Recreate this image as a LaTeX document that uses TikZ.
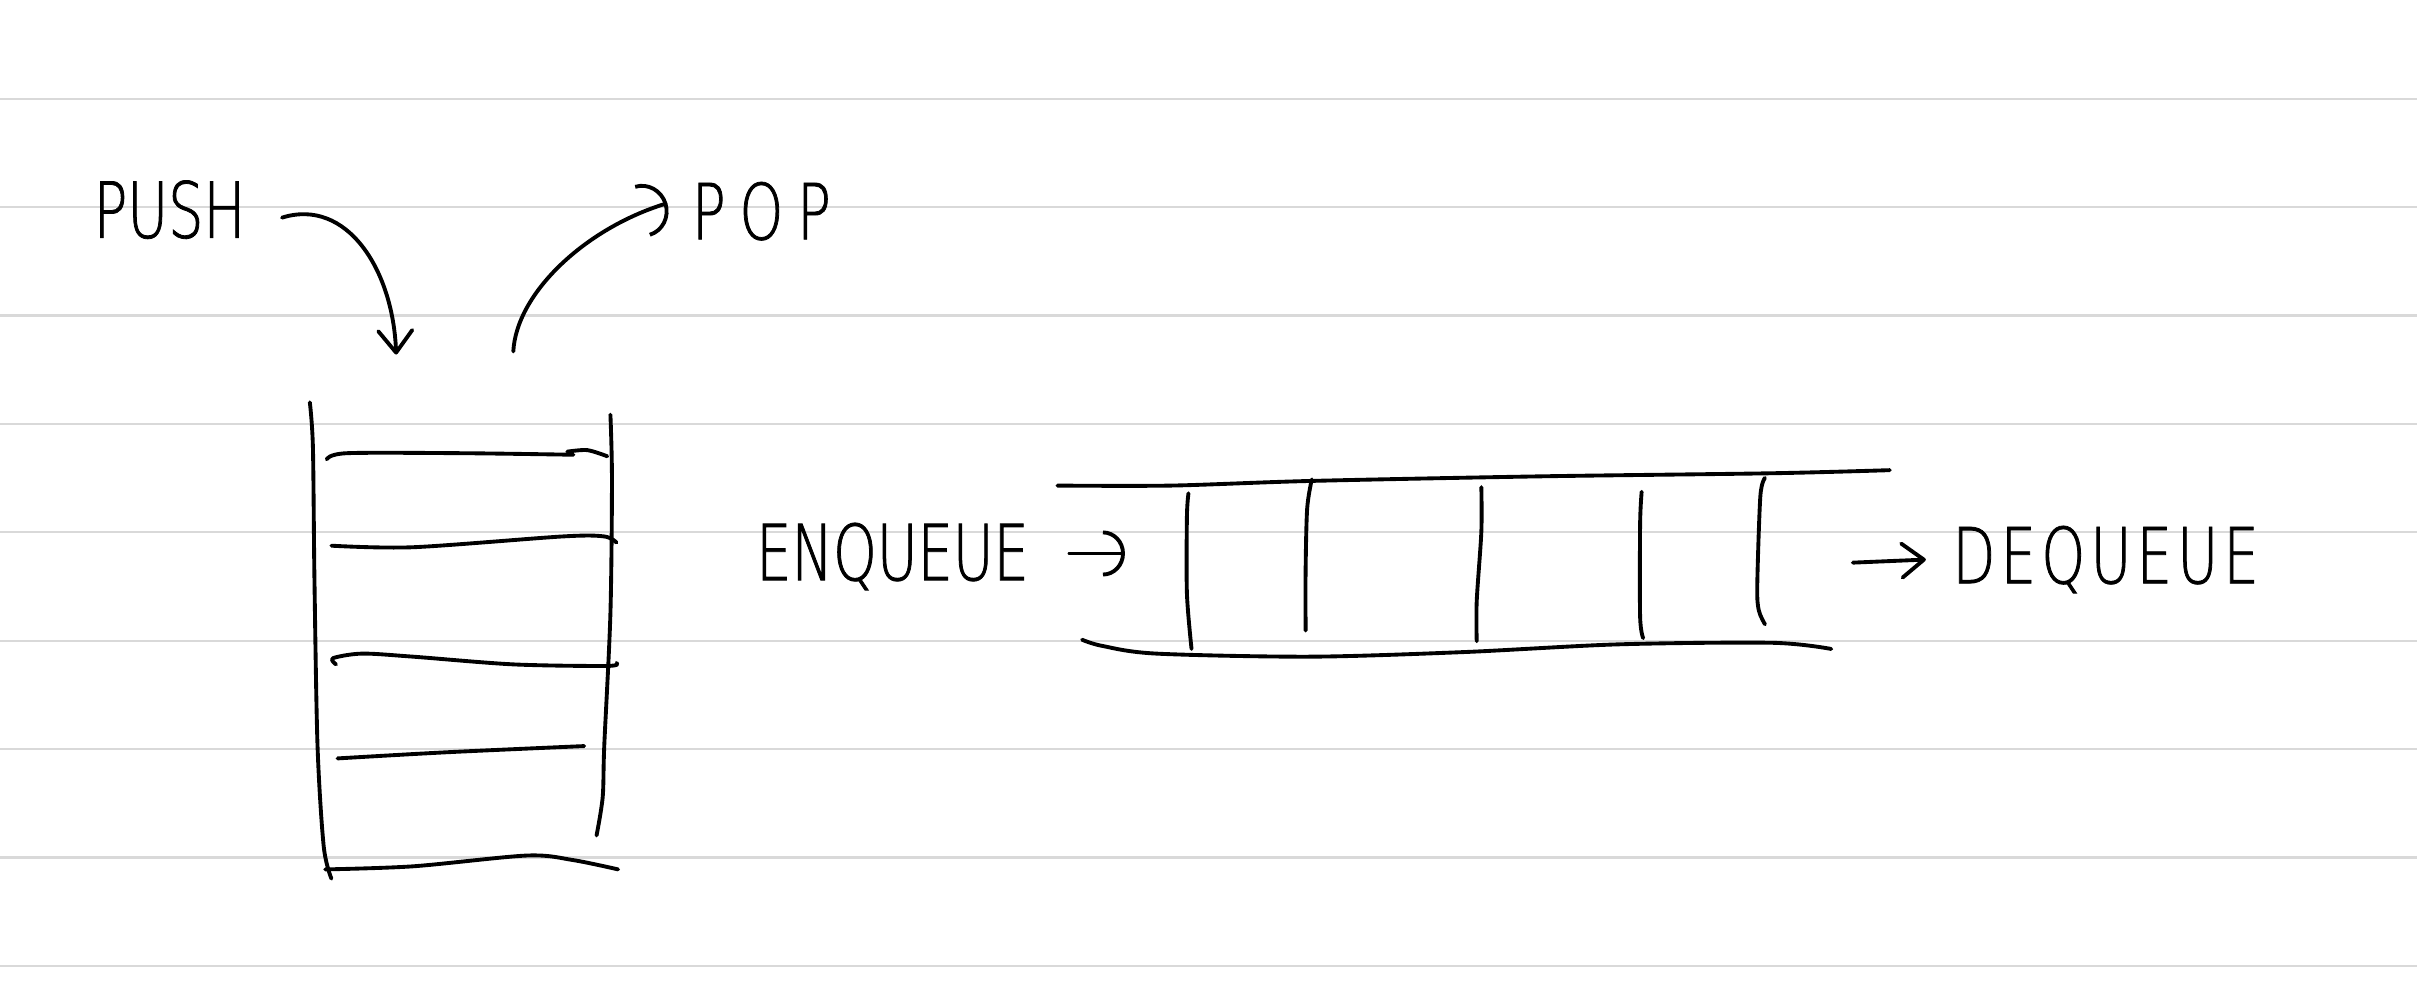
\documentclass[tikz,border=0pt]{standalone}
\usepackage{fontspec}
\usetikzlibrary{arrows.meta,positioning}
\IfFontExistsTF{DejaVu Sans ExtraLight}
  {\newfontfamily\handfont[FakeStretch=0.72,FakeBold=1]{DejaVu Sans ExtraLight}}
  {\newfontfamily\handfont[FakeStretch=0.72]{DejaVu Sans}}
\tikzset{
    ruled/.style={draw=gray!30, line width=0.6pt},
    pen/.style={draw, line width=1.1pt, line cap=round, line join=round},
    word/.style={font=\handfont\fontsize{22}{22}\selectfont, inner sep=0pt},
    vbarb/.style={pen, -{Straight Barb[round, length=2.2mm, width=3.4mm]}},
    cbarb/.style={pen, -{Arc Barb[length=2.2mm, width=4.6mm]}}
}

\begin{document}
\begin{tikzpicture}[x=0.15415mm, y=-0.15415mm]
    \useasboundingbox (0,0) rectangle (1568,648.7);
    % ruled paper
    \foreach \k in {0,...,8}
        \draw[ruled] (0,{64+70.33*\k}) -- (1568,{64+70.33*\k});

    % Labels
    \node[word] (push) at (110,136) {PUSH};
    \node[word] (pop) at (494,137) {\addfontfeature{LetterSpace=18}POP};
    \node[word] (enq) at (579,361) {ENQUEUE};
    \node[word] (deq) at (1366,363) {\addfontfeature{LetterSpace=7}DEQUEUE};

    % Stack
    \draw[pen] plot[smooth] coordinates {(201,261) (203,290) (204,376) (206,484) (210,549) (215,570)};
    \draw[pen] plot[smooth] coordinates {(396,269) (397,311) (396,398) (392,484) (391,517) (387,542)};
    \draw[pen] plot[smooth] coordinates {(212,298) (225,294) (300,294) (372,295)};
    \draw[pen] plot[smooth] coordinates {(368,293) (381,292) (394,296)};
    \draw[pen] plot[smooth] coordinates {(215,354) (268,355) (365,348) (392,348) (400,352)};
    \draw[pen] plot[smooth] coordinates {(218,431) (216,427) (235,424) (268,426) (333,431) (394,432) (400,430)};
    \draw[pen] plot[smooth] coordinates {(219,492) (290,488) (379,484)};
    \draw[pen] plot[smooth] coordinates {(211,564) (268,562) (342,555) (372,558) (401,564)};

    % Push and pop
    \coordinate (pushtip) at (257,230);
    \coordinate (poptail) at (333,228);
    \draw[vbarb] ([xshift=3.6mm,yshift=-0.8mm]push.east) .. controls (225,128) and (255,175) .. (pushtip);
    \draw[pen, -{Arc Barb[length=2.6mm, width=5.4mm]}] (poptail) .. controls (335,190) and (380,148) .. ([xshift=-2.4mm,yshift=0.8mm]pop.west);

    % Queue
    \draw[pen] plot[smooth] coordinates {(686,315) (760,315) (850,312) (1000,309) (1150,307) (1226,305)};
    \draw[pen] plot[smooth] coordinates {(702,415) (715,419) (750,424) (850,426) (950,423) (1050,418) (1150,417) (1188,421)};
    \draw[pen] plot[smooth] coordinates {(771,320) (770,335) (770,385) (773,421)};
    \draw[pen] plot[smooth] coordinates {(851,311) (848,330) (847,370) (847,409)};
    \draw[pen] plot[smooth] coordinates {(961,316) (961,345) (958,390) (958,416)};
    \draw[pen] plot[smooth] coordinates {(1065,319) (1064,340) (1064,400) (1066,414)};
    \draw[pen] plot[smooth] coordinates {(1145,310) (1142,322) (1140,380) (1141,396) (1145,405)};

    % Enqueue and dequeue
    \coordinate (deqtail) at (1202,365);
    \draw[cbarb] ([xshift=4mm,yshift=0.3mm]enq.east) -- ++(36,0);
    \draw[vbarb] (deqtail) -- ([xshift=-2.6mm]deq.west);
\end{tikzpicture}
\end{document}
